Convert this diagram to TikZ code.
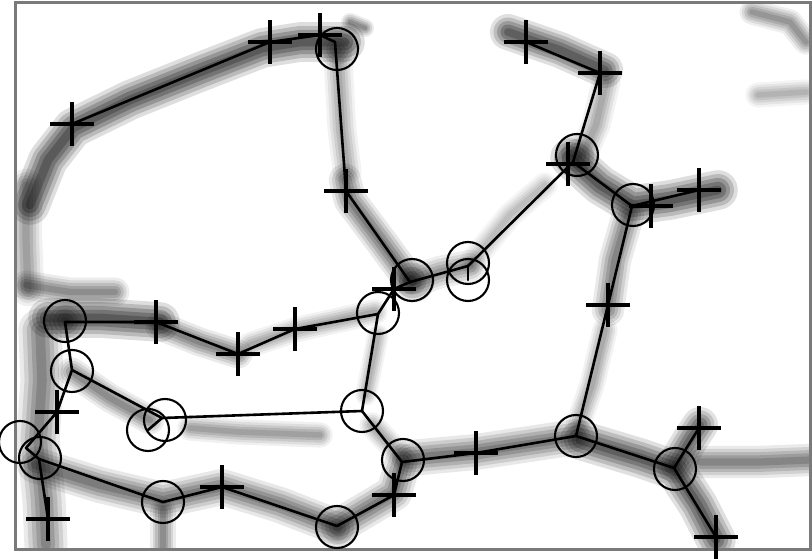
\documentclass[tikz,border=0pt]{standalone}
\usetikzlibrary{shapes.misc}
\newcommand\rdg[3]{%
  \pgfmathsetmacro\rdgA{#2*0.15}%
  \pgfmathsetmacro\rdgB{#2*0.19}%
  \pgfmathsetmacro\rdgC{#2*0.23}%
  \pgfmathsetmacro\rdgD{#2*0.26}%
  \draw[line width=#1*1.8pt, black, opacity=\rdgA, line cap=round, line join=round] #3;
  \draw[line width=#1*1.45pt, black, opacity=\rdgB, line cap=round, line join=round] #3;
  \draw[line width=#1*1.1pt, black, opacity=\rdgC, line cap=round, line join=round] #3;
  \draw[line width=#1*0.75pt, black, opacity=\rdgD, line cap=round, line join=round] #3;
  \draw[line width=#1*0.4pt, black, opacity=\rdgD, line cap=round, line join=round] #3;
}
\begin{document}
\begin{tikzpicture}[x=1pt,y=-1pt,
  conn/.style={line width=2.6pt, black, line cap=round, line join=round},
  ring/.style={circle, draw=black, line width=2.1pt, minimum size=42pt, inner sep=0pt},
  plus/.style={cross out, draw=black, line width=3.6pt, rotate=45, minimum size=31pt, inner sep=0pt, outer sep=0pt}]
\fill[white] (0,0) rectangle (812,559);
\useasboundingbox (0,0) rectangle (812,559);
% ---------- background ridges ----------
\begin{scope}
\clip (16,4) rectangle (809,548);
\rdg{22}{0.85}{(30,205) -- (48,160) -- (73,128) -- (130,100) -- (200,72) -- (262,48) -- (300,42) -- (345,42)}
\rdg{18}{0.4}{(26,185) -- (26,240) -- (28,290)}
\rdg{16}{0.5}{(26,285) -- (70,292) -- (115,292)}
\rdg{10}{0.5}{(350,22) -- (365,28)}
\rdg{16}{0.35}{(338,60) -- (342,130) -- (347,170)}
\rdg{18}{0.6}{(345,180) -- (350,200) -- (380,240) -- (408,278)}
\rdg{20}{0.8}{(508,32) -- (560,50) -- (605,70)}
\rdg{16}{0.35}{(606,82) -- (596,125) -- (585,150)}
\rdg{22}{0.85}{(570,158) -- (600,185) -- (633,205) -- (670,200) -- (718,190)}
\rdg{18}{0.55}{(628,215) -- (615,260) -- (608,310)}
\rdg{14}{0.35}{(605,330) -- (592,385) -- (578,425)}
\rdg{18}{0.45}{(412,282) -- (440,272) -- (470,266)}
\rdg{14}{0.25}{(472,262) -- (510,215) -- (545,185)}
\rdg{14}{0.45}{(752,12) -- (790,22) -- (806,42)}
\rdg{14}{0.3}{(758,95) -- (806,92)}
\rdg{22}{0.85}{(48,318) -- (100,318) -- (160,322)}
\rdg{16}{0.55}{(160,326) -- (200,342) -- (238,354)}
\rdg{14}{0.35}{(250,345) -- (295,330) -- (375,312)}
\rdg{12}{0.3}{(378,335) -- (366,395)}
\rdg{24}{0.55}{(40,330) -- (42,380) -- (38,440) -- (44,500) -- (46,545)}
\rdg{16}{0.5}{(72,372) -- (110,398) -- (150,420)}
\rdg{14}{0.4}{(190,428) -- (240,432) -- (320,435)}
\rdg{20}{0.6}{(35,465) -- (100,485) -- (163,500) -- (222,487) -- (280,505) -- (337,527) -- (394,493) -- (403,462)}
\rdg{14}{0.5}{(163,510) -- (163,548)}
\rdg{14}{0.35}{(372,425) -- (400,455)}
\rdg{20}{0.6}{(410,458) -- (476,452) -- (576,437)}
\rdg{22}{0.8}{(580,440) -- (640,458) -- (675,470) -- (698,505) -- (716,540)}
\rdg{20}{0.75}{(675,465) -- (690,440) -- (700,425)}
\rdg{18}{0.55}{(700,462) -- (760,462) -- (810,460)}
% dark blobs
\rdg{24}{0.6}{(412,280) -- (413,281)}
\rdg{22}{0.6}{(577,155) -- (578,156)}
\rdg{22}{0.6}{(337,527) -- (338,528)}
\rdg{22}{0.6}{(65,321) -- (66,322)}
\rdg{20}{0.5}{(337,49) -- (338,50)}
\end{scope}
\draw[black!52, line width=3pt] (15,3) rectangle (810,549);
% ---------- circles ----------
\node[ring] (o1) at (337,49) {};
\node[ring] (o2) at (412,280) {};
\node[ring] (o3) at (577,155) {};
\node[ring] (o4a) at (468,263) {};
\node[ring] (o4b) at (468,280) {};
\node[ring] (o5) at (633,205) {};
\node[ring] (o6) at (576,436) {};
\node[ring] (o7) at (403,460) {};
\node[ring] (o8) at (675,469) {};
\node[ring] (o9) at (65,321) {};
\node[ring] (o10) at (378,313) {};
\node[ring] (o11) at (362,411) {};
\node[ring] (o12a) at (165,420) {};
\node[ring] (o12b) at (148,430) {};
\node[ring] (o13) at (72,371) {};
\node[ring] (o14a) at (20,442) {};
\node[ring] (o14b) at (40,458) {};
\node[ring] (o15) at (163,502) {};
\node[ring] (o16) at (337,527) {};
% ---------- junction points ----------
\coordinate (j1) at (335,42);
\coordinate (j2) at (410,282);
\coordinate (j3) at (573,162);
\coordinate (j4) at (468,266);
\coordinate (j5) at (632,206);
\coordinate (j6) at (576,436);
\coordinate (j7) at (402,462);
\coordinate (j8) at (674,468);
\coordinate (j9) at (65,322);
\coordinate (j10) at (378,314);
\coordinate (j11) at (362,411);
\coordinate (j12) at (162,418);
\coordinate (j13) at (72,370);
\coordinate (j14a) at (26,448);
\coordinate (j14b) at (39,459);
\coordinate (j15) at (163,502);
\coordinate (j16) at (337,526);
% ---------- crosses ----------
\node[plus] (c1) at (72,124) {};
\node[plus] (c2) at (270,42) {};
\node[plus] (c3) at (320,35) {};
\node[plus] (c4) at (346,191) {};
\node[plus] (c5) at (526,42) {};
\node[plus] (c6) at (600,73) {};
\node[plus] (c7) at (568,164) {};
\node[plus] (c8) at (651,206) {};
\node[plus] (c9) at (699,190) {};
\node[plus] (c10) at (608,305) {};
\node[plus] (c11) at (476,453) {};
\node[plus] (c12) at (699,428) {};
\node[plus] (c13) at (716,537) {};
\node[plus] (c14) at (156,322) {};
\node[plus] (c15) at (238,354) {};
\node[plus] (c16) at (295,329) {};
\node[plus] (c17) at (394,289) {};
\node[plus] (c18) at (57,412) {};
\node[plus] (c19) at (48,519) {};
\node[plus] (c20) at (222,487) {};
\node[plus] (c21) at (394,495) {};
% ---------- connectors ----------
\draw[conn] (c1.center) -- (c2.center) -- (c3.center) -- (j1) -- (c4.center) -- (j2);
\draw[conn] (c5.center) -- (c6.center) -- (j3);
\draw[conn] (j3) -- (j4);
\draw[conn] (j3) -- (j5);
\draw[conn] (j5) -- (c9.center);
\draw[conn] (j5) -- (c10.center) -- (j6);
\draw[conn] (j2) -- (j4);
\draw[conn] (j4) -- (o4b.center);
\draw[conn] (j10) -- (c17.center) -- (j2);
\draw[conn] (j9) -- (c14.center) -- (c15.center) -- (c16.center) -- (j10);
\draw[conn] (j10) -- (j11);
\draw[conn] (j9) -- (j13) -- (j12) -- (j11);
\draw[conn] (j12) -- (o12b.center);
\draw[conn] (j13) -- (c18.center) -- (j14a) -- (j14b) -- (c19.center);
\draw[conn] (j14b) -- (j15) -- (c20.center) -- (j16) -- (c21.center) -- (j7);
\draw[conn] (j7) -- (j11);
\draw[conn] (j7) -- (c11.center) -- (j6) -- (j8);
\draw[conn] (j8) -- (c12.center);
\draw[conn] (j8) -- (c13.center);
\end{tikzpicture}
\end{document}
